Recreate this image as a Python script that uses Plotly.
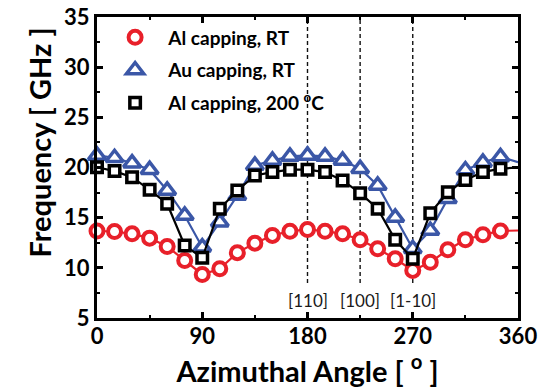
import plotly.graph_objects as go

# Azimuthal angle of each measurement (degrees)
angles = [0, 15, 30, 45, 60, 75, 90, 105, 120, 135, 150, 165,
          180, 195, 210, 225, 240, 255, 270, 285, 300, 315, 330, 345]

# Frequencies (GHz)
al_rt = [13.67, 13.62, 13.39, 12.96, 12.13, 10.73, 9.34, 9.91, 11.51, 12.46, 13.23, 13.65,
         13.82, 13.65, 13.39, 12.80, 11.90, 10.90, 9.74, 10.56, 11.80, 12.80, 13.30, 13.68]
au_rt = [21.20, 20.97, 20.43, 19.78, 17.71, 15.22, 12.06, 14.55, 17.21, 20.20, 20.70, 21.10,
         21.20, 21.10, 20.70, 19.88, 18.21, 15.02, 11.90, 13.72, 16.88, 19.75, 20.50, 21.05]
al_200 = [20.03, 19.64, 19.04, 17.78, 16.39, 12.23, 11.00, 15.89, 17.71, 19.21, 19.54, 19.78,
          19.78, 19.54, 18.71, 17.44, 15.89, 12.80, 10.90, 15.45, 17.54, 18.76, 19.54, 19.88]

# Where each guide curve meets the 360 degree edge (GHz)
al_rt_end = 13.72
au_rt_end = 20.53
al_200_end = 20.0

# Crystal directions marked along the angle axis
direction_angles = [180, 225, 270]
direction_labels = ["[110]", "[100]", "[1-10]"]

x_ticks = [0, 90, 180, 270, 360]
y_ticks = [5, 10, 15, 20, 25, 30, 35]

RED = "#e8202a"
BLUE = "#3b57a7"
BLACK = "#000000"
FONT = "Lato"
PAD = "\u00a0" * 3  # gap between legend symbol and its text

series = [
    ("Al capping, RT", al_rt, al_rt_end, RED, "circle", 13, 4),
    ("Au capping, RT", au_rt, au_rt_end, BLUE, "triangle-up", 15, 3.5),
    ("Al capping, 200 <sup>o</sup>C", al_200, al_200_end, BLACK, "square", 10.5, 3.5),
]

fig = go.Figure()
for i, (name, vals, end, color, symbol, size, lw) in enumerate(series):
    fig.add_trace(go.Scatter(
        x=angles + [360], y=vals + [end], mode="lines",
        line=dict(color=color, width=2.2), showlegend=False, hoverinfo="skip",
    ))
    fig.add_trace(go.Scatter(
        x=angles, y=vals, mode="markers", name=PAD + name, legendgroup=f"g{i}",
        marker=dict(symbol=symbol, size=size, color="white",
                    line=dict(color=color, width=lw)),
        cliponaxis=False,
    ))

# Dashed guides for the crystal directions
for ang, lab in zip(direction_angles, direction_labels):
    fig.add_shape(type="line", x0=ang, x1=ang, y0=8.5, y1=35,
                  xref="x", yref="y", layer="below",
                  line=dict(color="#111111", width=1.4, dash="4px,3px"))
    fig.add_annotation(x=ang, y=6.75, text=lab, showarrow=False,
                       xref="x", yref="y",
                       font=dict(family=FONT, size=17, color="#1a1a1a"))

# Vertical axis title, set a little above the centre of the axis
fig.add_annotation(x=-0.184, y=0.583, xref="paper", yref="paper",
                   text="Frequency [ GHz ]", textangle=-90, showarrow=False,
                   font=dict(family=FONT, size=29, color="black", weight="bold"))

axis_common = dict(
    showline=True, linecolor="black", linewidth=3, mirror="ticks",
    ticks="inside", ticklen=6, tickwidth=2.5, tickcolor="black",
    showgrid=False, zeroline=False, automargin=False,
    tickfont=dict(family=FONT, size=22, color="black", weight="bold"),
)

fig.update_xaxes(
    range=[0, 360], tickvals=x_ticks, ticklabelstandoff=-3,
    minor=dict(ticks="inside", ticklen=3, tickwidth=2, tickcolor="black", dtick=45, tick0=0),
    title=dict(text="Azimuthal Angle [ <sup>o</sup> ]", standoff=5,
               font=dict(family=FONT, size=29, color="black", weight="bold")),
    **axis_common,
)
fig.update_yaxes(
    range=[5, 35], tickvals=y_ticks,
    minor=dict(ticks="inside", ticklen=3, tickwidth=2, tickcolor="black", dtick=2.5, tick0=5),
    **axis_common,
)

fig.update_layout(
    width=539, height=388,
    margin=dict(l=97, r=21, t=17, b=70),
    paper_bgcolor="white", plot_bgcolor="white",
    legend=dict(x=0.043, y=0.995, xanchor="left", yanchor="top",
                bgcolor="rgba(0,0,0,0)", tracegroupgap=5,
                font=dict(family=FONT, size=19, color="black", weight="bold")),
)

fig.write_html("out.html")
